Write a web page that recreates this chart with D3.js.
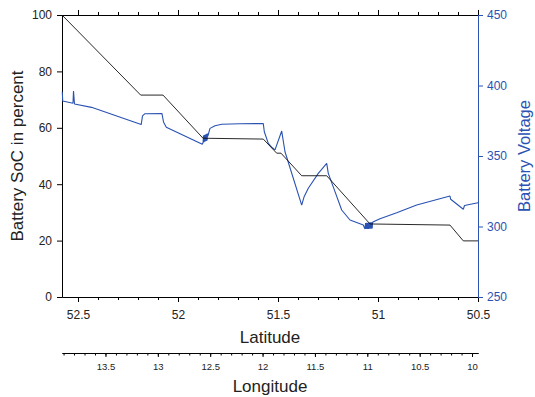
<!DOCTYPE html>
<html>
<head>
<meta charset="utf-8">
<title>battery soc</title>
<script src="https://cdn.jsdelivr.net/npm/d3@7"></script>
<style>
  body{ margin:0; background:#fff; font-family:"Liberation Sans", Arial, sans-serif; }
  .ax text{ font-family:"Liberation Sans", Arial, sans-serif; }
</style>
</head>
<body>
<div id="container"></div>
<script>
// SoC track (latitude, percent)
var socLat = [52.58, 52.1865, 52.075, 51.875, 51.5735, 51.5065, 51.485, 51.3815, 51.2565, 51.04, 50.64, 50.5735, 50.5];
var socVal = [100, 71.6, 71.6, 56.3, 56.0, 51.0, 51.0, 43.0, 43.0, 25.9, 25.5, 19.9, 19.9];

// voltage track (latitude, volts)
var voltLat = [52.5785, 52.5765, 52.525, 52.5225, 52.5175, 52.4325, 52.184, 52.1775, 52.165, 52.08, 52.0725, 52.0585, 51.8785,
  51.8745, 51.8725, 51.8705, 51.8685, 51.8665, 51.8645, 51.8625, 51.8605, 51.8585, 51.8565, 51.8545, 51.8525, 51.851,
  51.84, 51.815, 51.7815, 51.69, 51.5735, 51.5685, 51.5485, 51.53, 51.515, 51.4815, 51.465, 51.3815,
  51.37, 51.3485, 51.2985, 51.2565, 51.2485, 51.215, 51.1815, 51.14, 51.0735,
  51.065, 51.062, 51.059, 51.056, 51.053, 51.05, 51.047, 51.044, 51.041, 51.038, 51.035, 51.032, 51.029, 51.027,
  51.02, 50.99, 50.9065, 50.8065, 50.64, 50.6365, 50.5735, 50.5675, 50.5];
var voltVal = [395.6, 389.0, 387.4, 396.1, 386.9, 384.5, 372.3, 378.4, 380.0, 380.1, 374.1, 370.4, 358.3,
  359.5, 364.5, 359.8, 364.8, 360.1, 365.1, 360.4, 365.4, 360.7, 365.7, 361.0, 366.0, 364.0,
  369.6, 371.5, 372.5, 372.9, 373.0, 367.2, 359.0, 356.0, 354.3, 367.7, 353.0, 315.2,
  320.9, 327.1, 337.7, 344.8, 337.7, 324.7, 311.7, 304.6, 301.1,
  298.2, 302.5, 298.2, 302.6, 298.3, 302.7, 298.3, 302.8, 298.4, 302.9, 298.5, 303.0, 298.6, 303.0,
  303.6, 305.5, 309.8, 315.2, 321.6, 319.3, 312.2, 314.9, 316.9];

var latMajor = [52.5, 52, 51.5, 51, 50.5];
var latMinor = d3.range(505, 526).map(function(d){ return d/10; });
var lonMajor = [13.5, 13, 12.5, 12, 11.5, 11, 10.5, 10];
var lonMinor = d3.range(100, 140).map(function(d){ return d/10; });
var socTicks = [0, 20, 40, 60, 80, 100];
var voltTicks = [250, 300, 350, 400, 450];

var W = 535, H = 397;
var pLeft = 62, pRight = 478, pTop = 15, pBottom = 297;
var blue = "#2a52b2", ink = "#222";

var svg = d3.select("#container").append("svg")
    .attr("width", W)
    .attr("height", H);

var x = d3.scaleLinear().domain([52.58, 50.5]).range([pLeft, pRight]);
var lon = d3.scaleLinear().domain([13.915, 9.943]).range([pLeft, pRight]);
var ySoc = d3.scaleLinear().domain([0, 100]).range([pBottom, pTop]);
var yVolt = d3.scaleLinear().domain([250, 450]).range([pBottom, pTop]);

function styleAxis(g, col){
  g.selectAll(".domain").attr("stroke", col).attr("stroke-width", 1);
  g.selectAll(".tick line").attr("stroke", col).attr("stroke-width", 1);
  g.selectAll(".tick text").attr("fill", col);
}

// latitude (bottom)
var gx = svg.append("g").attr("class", "ax")
    .attr("transform", "translate(0," + pBottom + ")")
    .call(d3.axisBottom(x).tickValues(latMinor).tickSize(3).tickFormat("").tickSizeOuter(0));
styleAxis(gx, "#000");
var gx2 = svg.append("g").attr("class", "ax")
    .attr("transform", "translate(0," + pBottom + ")")
    .call(d3.axisBottom(x).tickValues(latMajor).tickSize(5).tickPadding(8).tickSizeOuter(0).tickFormat(d3.format("")));
styleAxis(gx2, "#000");
gx2.selectAll(".tick text").attr("font-size", 12).attr("fill", ink);

// top mirror
var gt = svg.append("g").attr("class", "ax")
    .attr("transform", "translate(0," + pTop + ")")
    .call(d3.axisTop(x).tickValues(latMinor).tickSize(3).tickFormat("").tickSizeOuter(0));
styleAxis(gt, "#000");
var gt2 = svg.append("g").attr("class", "ax")
    .attr("transform", "translate(0," + pTop + ")")
    .call(d3.axisTop(x).tickValues(latMajor).tickSize(5).tickFormat("").tickSizeOuter(0));
styleAxis(gt2, "#000");

// left SoC axis
var gy = svg.append("g").attr("class", "ax")
    .attr("transform", "translate(" + pLeft + ",0)")
    .call(d3.axisLeft(ySoc).tickValues(socTicks).tickSize(5).tickPadding(5).tickSizeOuter(0));
styleAxis(gy, "#000");
gy.selectAll(".tick text").attr("font-size", 12).attr("fill", ink);

// right voltage axis
var gv = svg.append("g").attr("class", "ax")
    .attr("transform", "translate(" + pRight + ",0)")
    .call(d3.axisRight(yVolt).tickValues(voltTicks).tickSize(5).tickPadding(4).tickSizeOuter(0));
styleAxis(gv, blue);
gv.selectAll(".tick text").attr("font-size", 12);

// longitude axis
var gl = svg.append("g").attr("class", "ax")
    .attr("transform", "translate(0,353)")
    .call(d3.axisBottom(lon).tickValues(lonMinor).tickSize(2.5).tickFormat("").tickSizeOuter(0));
styleAxis(gl, "#000");
var gl2 = svg.append("g").attr("class", "ax")
    .attr("transform", "translate(0,353)")
    .call(d3.axisBottom(lon).tickValues(lonMajor).tickSize(4).tickPadding(6).tickSizeOuter(0).tickFormat(d3.format("")));
styleAxis(gl2, "#000");
gl2.selectAll(".tick text").attr("font-size", 9.5).attr("fill", ink);

// lines
var socData = socLat.map(function(d, i){ return [d, socVal[i]]; });
var voltData = voltLat.map(function(d, i){ return [d, voltVal[i]]; });

svg.append("path")
    .datum(voltData)
    .attr("fill", "none")
    .attr("stroke", blue)
    .attr("stroke-width", 1.1)
    .attr("stroke-linejoin", "bevel")
    .attr("d", d3.line().x(function(d){ return x(d[0]); }).y(function(d){ return yVolt(d[1]); }));

svg.append("path")
    .datum(socData)
    .attr("fill", "none")
    .attr("stroke", "#111")
    .attr("stroke-width", 0.9)
    .attr("d", d3.line().x(function(d){ return x(d[0]); }).y(function(d){ return ySoc(d[1]); }));

// titles
svg.append("text")
    .text("Latitude")
    .attr("x", (pLeft + pRight) / 2)
    .attr("y", 343)
    .attr("text-anchor", "middle")
    .attr("font-size", 17)
    .attr("fill", ink);

svg.append("text")
    .text("Longitude")
    .attr("x", (pLeft + pRight) / 2)
    .attr("y", 392)
    .attr("text-anchor", "middle")
    .attr("font-size", 17)
    .attr("fill", ink);

svg.append("text")
    .text("Battery SoC in percent")
    .attr("transform", "translate(23," + ((pTop + pBottom) / 2) + ") rotate(-90)")
    .attr("text-anchor", "middle")
    .attr("font-size", 17)
    .attr("fill", ink);

svg.append("text")
    .text("Battery Voltage")
    .attr("transform", "translate(530," + ((pTop + pBottom) / 2) + ") rotate(-90)")
    .attr("text-anchor", "middle")
    .attr("font-size", 16.5)
    .attr("fill", blue);
</script>
</body>
</html>
